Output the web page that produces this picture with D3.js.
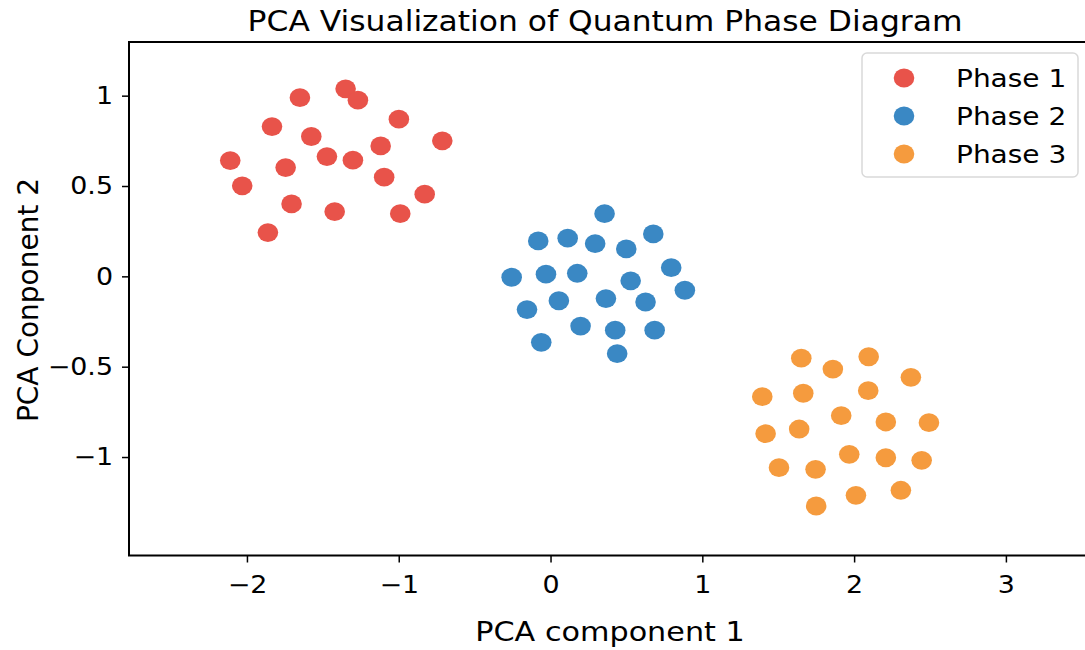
<!DOCTYPE html>
<html>
<head>
<meta charset="utf-8">
<script src="https://cdn.jsdelivr.net/npm/d3@7"></script>
<style>
    body { margin: 0; background: #ffffff; }
    text { font-family: "DejaVu Sans", sans-serif; fill: #000000; }
    .axis path, .axis line { stroke: #000000; }
</style>
</head>
<body>
<svg id="chart" width="1085" height="650"></svg>
<script>
// phase names and colours
var phases = ["Phase 1", "Phase 2", "Phase 3"];
var colors = ["#e8534a", "#3a88c4", "#f59b3e"];

// tick values
var xTicks = [-2, -1, 0, 1, 2, 3];
var yTicks = [-1, -0.5, 0, 0.5, 1];

// points per phase, [pc1, pc2]
var phase1 = [
    [-1.350, 1.038], [-1.269, 0.975], [-1.651, 0.989], [-0.999, 0.870],
    [-1.835, 0.829], [-0.713, 0.750], [-1.576, 0.774], [-1.119, 0.722],
    [-2.110, 0.641], [-1.745, 0.602], [-1.473, 0.663], [-1.302, 0.643],
    [-1.096, 0.549], [-2.031, 0.501], [-0.829, 0.455], [-1.706, 0.401],
    [-1.422, 0.358], [-0.990, 0.347], [-1.862, 0.242]
];
var phase2 = [
    [0.356, 0.347], [-0.081, 0.196], [0.113, 0.211], [0.294, 0.181],
    [0.499, 0.152], [0.677, 0.235], [-0.256, -0.005], [-0.030, 0.012],
    [0.176, 0.017], [0.795, 0.048], [0.528, -0.025], [0.885, -0.077],
    [0.055, -0.135], [0.365, -0.123], [0.626, -0.142], [-0.155, -0.184],
    [0.198, -0.275], [0.426, -0.298], [0.686, -0.298], [-0.061, -0.365],
    [0.439, -0.428]
];
var phase3 = [
    [1.652, -0.453], [2.096, -0.445], [1.860, -0.513], [2.374, -0.559],
    [1.395, -0.666], [1.665, -0.647], [2.093, -0.633], [1.915, -0.771],
    [2.209, -0.806], [2.493, -0.810], [1.417, -0.871], [1.638, -0.845],
    [1.968, -0.985], [2.209, -1.004], [2.445, -1.018], [1.505, -1.059],
    [1.746, -1.068], [2.012, -1.212], [2.308, -1.184], [1.750, -1.271]
];

// the reference text is a bit wider than plain DejaVu
const STRETCH = 1.12;

window.onload = function()
{
    drawChart([phase1, phase2, phase3]);
}

// minus sign like matplotlib
function fmt(d)
{
    return (d < 0 ? "\u2212" : "") + Math.abs(d);
}

// adds a horizontally stretched text at x, y
function addText(parent, x, y, size, anchor, str)
{
    return parent.append("text")
        .attr("transform", "translate(" + x + "," + y + ") scale(" + STRETCH + ",1)")
        .attr("text-anchor", anchor)
        .style("font-size", size + "px")
        .text(str);
}

function drawChart(data)
{
    var svg = d3.select("#chart");

    // plot box (right edge runs off the page)
    const LEFT = 129, RIGHT = 1090, TOP = 42, BOTTOM = 555.5;

    var xScale = d3.scaleLinear().domain([-2.777, 3.554]).range([LEFT, RIGHT]),
        yScale = d3.scaleLinear().domain([-1.545, 1.297]).range([BOTTOM, TOP]);

    // frame
    svg.append("rect")
        .attr("x", LEFT)
        .attr("y", TOP)
        .attr("width", RIGHT - LEFT)
        .attr("height", BOTTOM - TOP)
        .attr("fill", "none")
        .attr("stroke", "#000")
        .attr("stroke-width", 2);

    // axes
    var xAxis = d3.axisBottom(xScale).tickValues(xTicks).tickFormat(fmt)
                  .tickSize(7).tickPadding(13).tickSizeOuter(0),
        yAxis = d3.axisLeft(yScale).tickValues(yTicks).tickFormat(fmt)
                  .tickSize(7).tickPadding(9).tickSizeOuter(0);

    var gx = svg.append("g")
        .attr("class", "axis")
        .attr("transform", "translate(0," + BOTTOM + ")")
        .call(xAxis);
    var gy = svg.append("g")
        .attr("class", "axis")
        .attr("transform", "translate(" + LEFT + ",0)")
        .call(yAxis);

    gx.select(".domain").remove();
    gy.select(".domain").remove();
    svg.selectAll(".axis line").attr("stroke-width", 1.5);
    svg.selectAll(".axis text")
        .style("font-size", "24px")
        .style("font-family", "DejaVu Sans, sans-serif")
        .attr("fill", "#000");

    // stretch tick labels round their anchor
    gx.selectAll("text").attr("transform", "scale(" + STRETCH + ",1)");
    gy.selectAll("text")
        .attr("x", -16 / STRETCH)
        .attr("transform", "scale(" + STRETCH + ",1)");

    // scatter points
    for (let i = 0; i < data.length; i++)
    {
        svg.append("g")
            .selectAll("ellipse")
            .data(data[i])
            .enter()
            .append("ellipse")
            .attr("cx", d => xScale(d[0]))
            .attr("cy", d => yScale(d[1]))
            .attr("rx", 10.3)
            .attr("ry", 9.4)
            .attr("fill", colors[i]);
    }

    // title and axis labels
    addText(svg, 605, 31, 28, "middle", "PCA Visualization of Quantum Phase Diagram");
    addText(svg, 610, 641, 27, "middle", "PCA component 1");

    svg.append("text")
        .attr("transform", "translate(38,300) rotate(-90)")
        .attr("text-anchor", "middle")
        .style("font-size", "28px")
        .text("PCA Conponent 2");

    // legend
    var legend = svg.append("g");
    legend.append("rect")
        .attr("x", 862)
        .attr("y", 53)
        .attr("width", 216)
        .attr("height", 124)
        .attr("rx", 5)
        .attr("fill", "#fff")
        .attr("fill-opacity", 0.8)
        .attr("stroke", "#d9d9d9")
        .attr("stroke-width", 1.5);

    var rows = legend.selectAll(".row")
        .data(phases)
        .enter()
        .append("g")
        .attr("class", "row")
        .attr("transform", (d, i) => "translate(0," + (78 + i * 38) + ")");

    rows.append("ellipse")
        .attr("cx", 904)
        .attr("cy", 0)
        .attr("rx", 10.3)
        .attr("ry", 9.4)
        .attr("fill", (d, i) => colors[i]);

    rows.each(function(d) {
        addText(d3.select(this), 956, 9, 25, "start", d);
    });
}
</script>
</body>
</html>
